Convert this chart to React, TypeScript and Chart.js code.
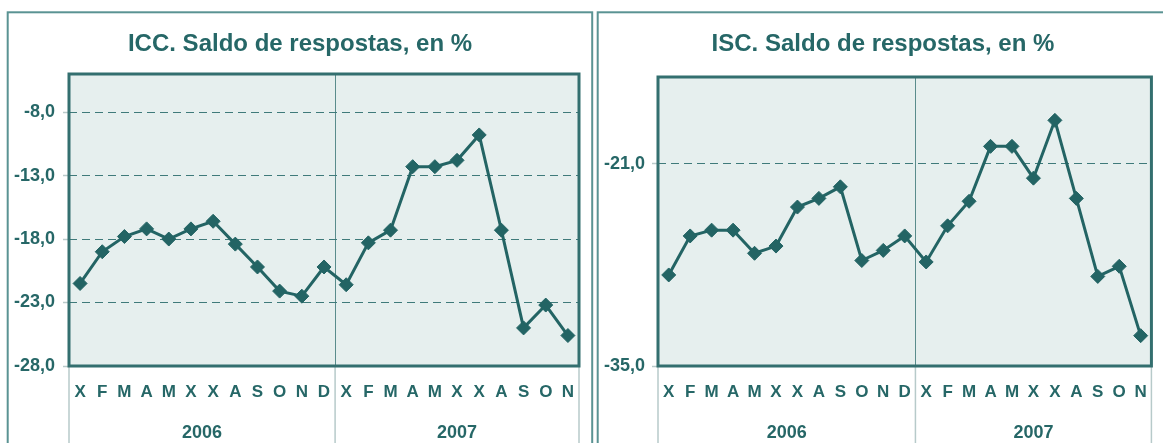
import React, { useEffect, useRef } from 'react';
import { Chart, registerables } from 'chart.js';

Chart.register(...registerables);

// ---- data ----
const MONTHS = ['X', 'F', 'M', 'A', 'M', 'X', 'X', 'A', 'S', 'O', 'N', 'D', 'X', 'F', 'M', 'A', 'M', 'X', 'X', 'A', 'S', 'O', 'N'];
const YEARS = ['2006', '2007'];
const YEAR_SPANS = [12, 11];
const ICC_VALUES = [-21.5, -19.0, -17.8, -17.2, -18.0, -17.2, -16.6, -18.4, -20.2, -22.1, -22.5, -20.2, -21.6, -18.3, -17.3, -12.3, -12.3, -11.8, -9.8, -17.3, -25.0, -23.2, -25.6];
const ISC_VALUES = [-28.7, -26.0, -25.6, -25.6, -27.2, -26.7, -24.0, -23.4, -22.6, -27.7, -27.0, -26.0, -27.8, -25.3, -23.6, -19.8, -19.8, -22.0, -18.0, -23.4, -28.8, -28.1, -32.9];
const ICC_TICKS = [-28, -23, -18, -13, -8];
const ISC_TICKS = [-35, -21];
const ICC_TITLE = 'ICC. Saldo de respostas, en %';
const ISC_TITLE = 'ISC. Saldo de respostas, en %';

// ---- styles ----
const H = 443;
const TEXT = '#266767';
const LINE = '#236464';
const GRID = '#3f7a7a';
const SEP = '#5a8c8c';
const LIGHT = '#b7caca';
const TICK = '#b9caca';
const PLOT_BG = '#e6efee';
const FRAME = '#5a9393';
const PLOT_BORDER = '#336f6f';
const FONT = "'Liberation Sans', Arial, sans-serif";

const fmt = (v: number) => v.toFixed(1).replace('.', ',');

const boundaries: number[] = [];
{
  let acc = 0;
  YEAR_SPANS.forEach((n) => {
    acc += n;
    boundaries.push(acc);
  });
}

const decor = {
  id: 'decor',
  beforeDraw(chart: any, _a: any, opts: any) {
    const { ctx, chartArea: a } = chart;
    ctx.save();
    ctx.fillStyle = PLOT_BG;
    ctx.fillRect(a.left, a.top, a.right - a.left, a.bottom - a.top);
    ctx.strokeStyle = FRAME;
    ctx.lineWidth = 2;
    ctx.strokeRect(opts.frameX, 12.3, opts.frameW, 800);
    ctx.fillStyle = TEXT;
    ctx.font = `bold 24px ${FONT}`;
    ctx.textAlign = 'center';
    ctx.textBaseline = 'middle';
    ctx.fillText(opts.title, opts.titleX, 44);
    ctx.restore();
  },
  beforeDatasetsDraw(chart: any) {
    const { ctx, chartArea: a } = chart;
    const xs = chart.scales.x;
    ctx.save();
    // lines below the plot (group separators)
    const xsLines: number[] = [a.left];
    boundaries.forEach((b, i) => {
      if (i < boundaries.length - 1) {
        xsLines.push((xs.getPixelForValue(b - 1) + xs.getPixelForValue(b)) / 2);
      }
    });
    xsLines.push(a.right);
    ctx.strokeStyle = LIGHT;
    ctx.lineWidth = 1.5;
    xsLines.forEach((x) => {
      ctx.beginPath();
      ctx.moveTo(x, a.bottom);
      ctx.lineTo(x, chart.height);
      ctx.stroke();
    });
    // year labels
    ctx.fillStyle = TEXT;
    ctx.font = `bold 18px ${FONT}`;
    ctx.textAlign = 'center';
    ctx.textBaseline = 'middle';
    let start = 0;
    YEARS.forEach((y, i) => {
      const end = start + YEAR_SPANS[i] - 1;
      const cx = (xs.getPixelForValue(start) + xs.getPixelForValue(end)) / 2;
      ctx.fillText(y, cx, 433);
      start = end + 1;
    });
    // plot border
    ctx.strokeStyle = PLOT_BORDER;
    ctx.lineWidth = 3;
    ctx.strokeRect(a.left, a.top, a.right - a.left, a.bottom - a.top);
    ctx.restore();
  },
};

interface Spec {
  title: string;
  values: number[];
  ticks: number[];
  min: number;
  max: number;
  left: number;
  width: number;
  areaLeft: number;
  areaRight: number;
  areaTop: number;
  areaBottom: number;
  titleX: number;
  frameX: number;
  frameW: number;
  labelPad: number;
}

function makeConfig(s: Spec): any {
  return {
    type: 'line',
    data: {
      labels: MONTHS,
      datasets: [
        {
          data: s.values,
          borderColor: LINE,
          backgroundColor: LINE,
          borderWidth: 3,
          pointStyle: 'rectRot',
          pointRadius: 7,
          pointBorderWidth: 1,
          pointBackgroundColor: LINE,
          pointBorderColor: LINE,
          tension: 0,
          clip: false,
        },
      ],
    },
    options: {
      responsive: false,
      maintainAspectRatio: false,
      animation: false,
      layout: { padding: { top: s.areaTop, right: s.width - s.areaRight, left: 0, bottom: 0 } },
      plugins: {
        legend: { display: false },
        tooltip: { enabled: false },
        title: { display: false },
        decor: { title: s.title, titleX: s.titleX, frameX: s.frameX, frameW: s.frameW },
      },
      scales: {
        x: {
          type: 'category',
          offset: true,
          grid: {
            offset: true,
            drawTicks: false,
            lineWidth: 1,
            color: (c: any) =>
              boundaries.slice(0, -1).includes(c.index) ? SEP : 'rgba(0,0,0,0)',
          },
          border: { display: false },
          ticks: {
            autoSkip: false,
            maxRotation: 0,
            minRotation: 0,
            color: TEXT,
            font: { family: FONT, size: 17, weight: 'bold' },
            padding: 16,
          },
          afterFit: (sc: any) => {
            sc.height = H - s.areaBottom;
          },
        },
        y: {
          min: s.min,
          max: s.max,
          afterBuildTicks: (sc: any) => {
            sc.ticks = s.ticks.map((v) => ({ value: v }));
          },
          afterFit: (sc: any) => {
            sc.width = s.areaLeft;
          },
          grid: {
            color: GRID,
            lineWidth: 1,
            drawTicks: true,
            tickLength: 6,
            tickColor: TICK,
            tickWidth: 1.5,
            tickBorderDash: [],
          },
          border: { display: false, dash: [8, 5] },
          ticks: {
            color: TEXT,
            font: { family: FONT, size: 18, weight: 'bold' },
            padding: s.labelPad,
            callback: (v: any) => fmt(Number(v)),
          },
        },
      },
    },
    plugins: [decor],
  };
}

const ICC_SPEC: Spec = {
  title: ICC_TITLE,
  values: ICC_VALUES,
  ticks: ICC_TICKS,
  min: -28,
  max: -5,
  left: 0,
  width: 595,
  areaLeft: 69,
  areaRight: 579,
  areaTop: 74,
  areaBottom: 366,
  titleX: 300,
  frameX: 7.7,
  frameW: 584.5,
  labelPad: 8,
};

const ISC_SPEC: Spec = {
  title: ISC_TITLE,
  values: ISC_VALUES,
  ticks: ISC_TICKS,
  min: -35,
  max: -15,
  left: 595,
  width: 568,
  areaLeft: 63,
  areaRight: 565,
  areaTop: 77,
  areaBottom: 366,
  titleX: 288,
  frameX: 2.7,
  frameW: 700,
  labelPad: 7,
};

function Panel({ spec }: { spec: Spec }) {
  const ref = useRef<HTMLCanvasElement>(null);
  useEffect(() => {
    const chart = new Chart(ref.current as HTMLCanvasElement, makeConfig(spec));
    return () => chart.destroy();
  }, [spec]);
  return (
    <canvas
      ref={ref}
      width={spec.width}
      height={H}
      style={{ position: 'absolute', left: spec.left, top: 0, width: spec.width, height: H }}
    />
  );
}

export default function App() {
  useEffect(() => {
    document.body.style.margin = '0';
  }, []);
  return (
    <div style={{ position: 'relative', width: 1163, height: H, overflow: 'hidden', background: '#fff' }}>
      <Panel spec={ICC_SPEC} />
      <Panel spec={ISC_SPEC} />
    </div>
  );
}
